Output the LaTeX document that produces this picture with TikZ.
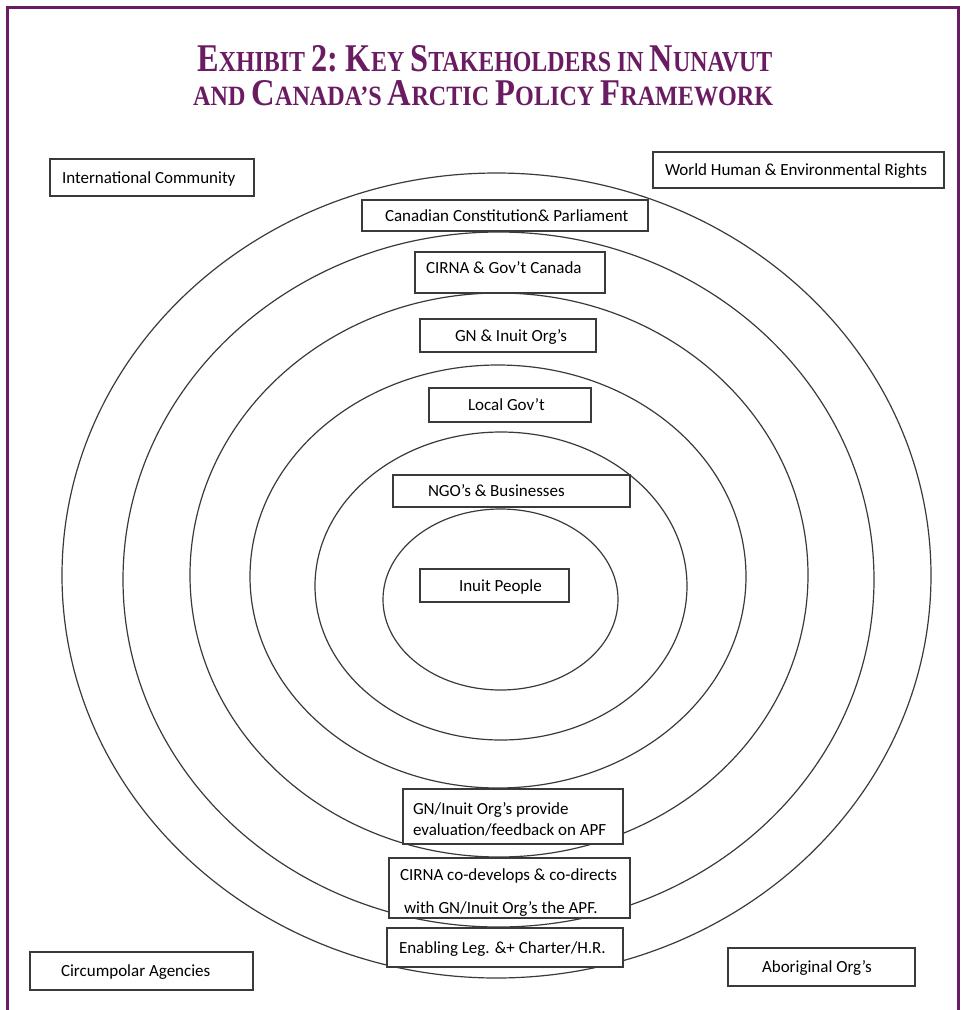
\documentclass[tikz,border=0pt]{standalone}
\usepackage{fontspec}
\setmainfont{Liberation Serif}
\newfontfamily\boxfont{Carlito}
\usepackage{graphicx}
\definecolor{exhibitpurple}{RGB}{106,27,98}
\definecolor{linegray}{RGB}{58,58,58}
\newcommand\TCap[1]{{\fontsize{30}{30}\selectfont #1}}
\newcommand\TSm[1]{{\fontsize{22.2}{22.2}\selectfont #1}}
\newcommand\boxline[2]{\makebox[#1][l]{#2}}
\tikzset{
  ring/.style={draw=linegray, line width=1.2pt},
  stakebox/.style={draw=linegray, line width=1.2pt, fill=white, rectangle,
    inner ysep=0pt, align=left, text height=13.5pt, text depth=2.5pt,
    font={\boxfont\fontsize{17}{21}\selectfont}},
  titletext/.style={anchor=base west, inner sep=0pt, text=exhibitpurple,
    font={\bfseries\fontsize{22.2}{22.2}\selectfont}},
}
\begin{document}
\begin{tikzpicture}[x=1pt,y=-1pt]
\useasboundingbox (0,0) rectangle (964,1010);
\clip (0,0) rectangle (964,1010);
% frame
\draw[exhibitpurple, line width=3pt] (7,7) rectangle (958.5,1040);
% title
\node[titletext] (title1) at (197,71) {\resizebox{575pt}{26pt}{\TCap{E}\TSm{XHIBIT} \TCap{2:} \TCap{K}\TSm{EY} \TCap{S}\TSm{TAKEHOLDERS IN} \TCap{N}\TSm{UNAVUT}}};
\node[titletext] (title2) at (193,105) {\resizebox{580pt}{25pt}{\TSm{AND} \TCap{C}\TSm{ANADA’S} \TCap{A}\TSm{RCTIC} \TCap{P}\TSm{OLICY} \TCap{F}\TSm{RAMEWORK}}};
% concentric rings
\draw[ring] (496.5,575.5) ellipse [x radius=434.5, y radius=402.5];
\draw[ring] (498.5,579.5) ellipse [x radius=375.5, y radius=347.5];
\draw[ring] (499,575) ellipse [x radius=309, y radius=282];
\draw[ring] (498,576.5) ellipse [x radius=248, y radius=211.5];
\draw[ring] (501,586) ellipse [x radius=186, y radius=154];
\draw[ring] (500.5,599.5) ellipse [x radius=117.5, y radius=90.5];
% boxes
\node[stakebox, minimum width=204pt, minimum height=37pt, inner xsep=12pt] (intl) at (152,177.5) {\boxline{180pt}{International Community}};
\node[stakebox, minimum width=291pt, minimum height=36pt, inner xsep=12pt] (world) at (798.5,170) {\boxline{267pt}{World Human \& Environmental Rights}};
\node[stakebox, minimum width=286pt, minimum height=31pt, inner xsep=23pt] (consti) at (505,215.5) {\boxline{240pt}{Canadian Constitution\& Parliament}};
\node[stakebox, minimum width=190pt, minimum height=41pt, inner xsep=11pt] (cirna) at (510,272.5) {\raisebox{5pt}[\height][\depth]{\boxline{168pt}{CIRNA \& Gov’t Canada}}};
\node[stakebox, minimum width=176pt, minimum height=33pt, inner xsep=35pt] (gn) at (508,335.5) {\boxline{106pt}{GN \& Inuit Org’s}};
\node[stakebox, minimum width=162pt, minimum height=34pt, inner xsep=39pt] (local) at (510,405) {\boxline{84pt}{Local Gov’t}};
\node[stakebox, minimum width=237pt, minimum height=32pt, inner xsep=35pt] (ngo) at (511.5,491) {\boxline{167pt}{NGO’s \& Businesses}};
\node[stakebox, minimum width=149pt, minimum height=33pt, inner xsep=39pt] (inuit) at (494.5,585.5) {\boxline{71pt}{Inuit People}};
\node[stakebox, minimum width=220pt, minimum height=55pt, inner xsep=10pt, text height=, text depth=] (feedback) at (513,816.5) {\raisebox{-3pt}[\height][\depth]{\parbox{200pt}{\raggedright GN/Inuit Org’s provide\\evaluation/feedback on APF}}};
\node[stakebox, minimum width=241pt, minimum height=60pt, inner xsep=11pt, text height=, text depth=] (codev) at (509.5,888) {\raisebox{-5pt}[\height][\depth]{\parbox{219pt}{\raggedright CIRNA co-develops \& co-directs\\[12pt]\hspace*{4pt}with GN/Inuit Org’s the APF.}}};
\node[stakebox, minimum width=236pt, minimum height=39pt, inner xsep=12pt] (enabling) at (505,947.5) {\boxline{212pt}{Enabling Leg. \&+ Charter/H.R.}};
\node[stakebox, minimum width=223pt, minimum height=38pt, inner xsep=31pt] (circum) at (141.5,971) {\boxline{161pt}{Circumpolar Agencies}};
\node[stakebox, minimum width=187pt, minimum height=38pt, inner xsep=34pt] (aborig) at (821.5,967) {\boxline{119pt}{Aboriginal Org’s}};
\end{tikzpicture}
\end{document}
